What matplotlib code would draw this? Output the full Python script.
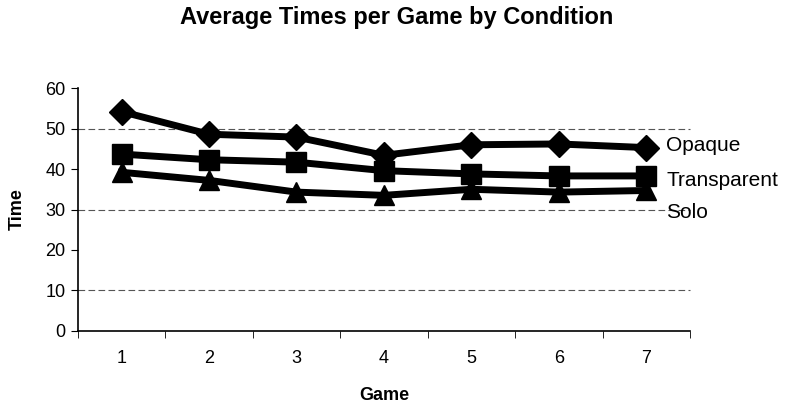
import numpy as np
import matplotlib.pyplot as plt

# Values
games = [1, 2, 3, 4, 5, 6, 7]
opaque = [54.2, 48.6, 47.9, 43.4, 46.0, 46.2, 45.3]
transparent = [43.7, 42.3, 41.7, 39.6, 38.8, 38.3, 38.3]
solo = [39.2, 37.2, 34.3, 33.5, 35.0, 34.3, 34.7]
series_names = ['Opaque', 'Transparent', 'Solo']
label_y = [45.9, 37.2, 29.2]

plt.rcParams['font.family'] = ['Liberation Sans', 'DejaVu Sans']

fig = plt.figure(figsize=(7.94, 4.08), dpi=100)
ax = fig.add_axes([0.098, 0.189, 0.771, 0.595])

# dashed gridlines (faint scanned look)
for g in [10, 30, 50]:
    ax.axhline(g, color='#555555', lw=0.8, ls=(0, (6, 3)), zorder=1, clip_on=False)

markers = ['D', 's', '^']
sizes = [13, 14, 14]
for vals, m, ms, name, ly in zip([opaque, transparent, solo], markers, sizes,
                                 series_names, label_y):
    ax.plot(games, vals, color='black', lw=5, marker=m, markersize=ms, zorder=3)
    ax.text(7.23, ly, name, fontsize=15, va='center', ha='left')

ax.set_xlim(0.5, 7.5)
ax.set_ylim(0, 60)
ax.set_yticks(np.arange(0, 61, 10))
ax.set_xticks(games)
ax.set_xticks(np.arange(0.5, 7.6, 1), minor=True)
ax.tick_params(axis='x', which='major', length=0, pad=14, labelsize=13)
ax.tick_params(axis='x', which='minor', length=5, direction='out')
ax.tick_params(axis='y', length=5, direction='out', labelsize=13, pad=4)

for s in ['top', 'right']:
    ax.spines[s].set_visible(False)
ax.spines['left'].set_linewidth(1.2)
ax.spines['bottom'].set_linewidth(1.2)

ax.set_xlabel('Game', fontsize=13, fontweight='bold', labelpad=14)
ax.set_ylabel('Time', fontsize=13, fontweight='bold', labelpad=14)
fig.suptitle('Average Times per Game by Condition', fontsize=17,
             fontweight='bold', x=0.5, y=0.985)

plt.savefig('out.png', dpi=100)
